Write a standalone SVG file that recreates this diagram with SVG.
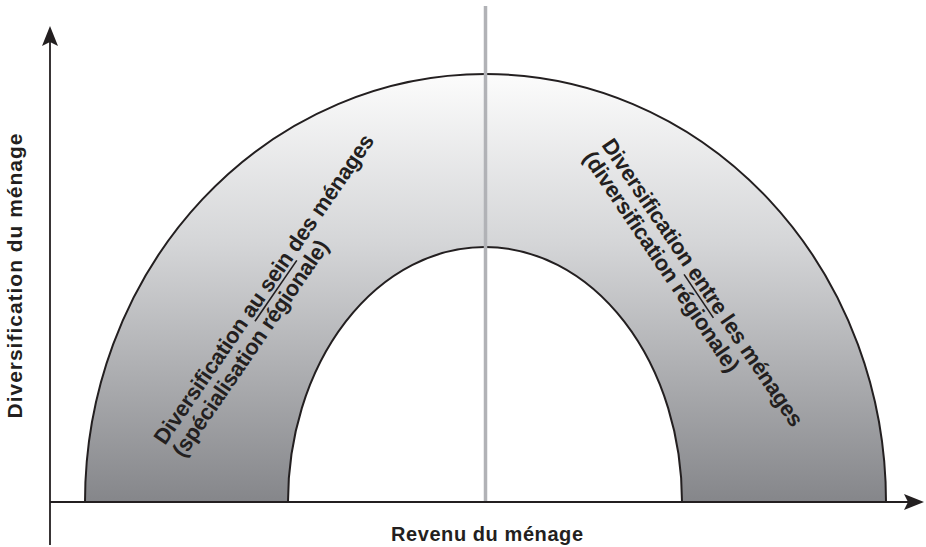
<svg xmlns="http://www.w3.org/2000/svg" width="926" height="547" viewBox="0 0 926 547">
<style>
.lbl{font-family:"Liberation Sans",Arial,sans-serif;font-weight:bold;fill:#231f20}
.arc{font-size:22px;letter-spacing:-0.25px}
.axis{stroke:#231f20;stroke-width:1.8;fill:none}
.ul{stroke:#231f20;stroke-width:1.6}
</style>
<defs>
<linearGradient id="arch" gradientUnits="userSpaceOnUse" x1="0" y1="74" x2="0" y2="502">
<stop offset="0" stop-color="#fcfcfc"/>
<stop offset="0.4" stop-color="#d4d5d7"/>
<stop offset="1" stop-color="#85868a"/>
</linearGradient>
</defs>
<rect width="926" height="547" fill="#ffffff"/>
<g id="arch-band">
<path d="M85 502 A400.5 428 0 0 1 886 502 L682 502 A197 255 0 0 0 288 502 Z" fill="url(#arch)" stroke="#231f20" stroke-width="2"/>
</g>
<g id="divider">
<line x1="485.5" y1="6" x2="485.5" y2="502" stroke="#b1b2b6" stroke-width="3.5"/>
</g>
<g id="connectors">
<line class="axis" x1="50" y1="545" x2="50" y2="40"/>
<polygon points="50,26 58,46 50,42 42,46" fill="#231f20"/>
<line class="axis" x1="50" y1="502" x2="910" y2="502"/>
<polygon points="924,502 904,510 908,502 904,494" fill="#231f20"/>
</g>
<g id="label-within">
<g transform="translate(165,446) rotate(-55.5)">
<text class="lbl arc"><tspan x="0" y="0">Diversification au sein des ménages</tspan><tspan x="0" y="22.5">(spécialisation régionale)</tspan></text>
<line class="ul" x1="153.7" y1="3.5" x2="227.6" y2="3.5"/>
</g>
</g>
<g id="label-between">
<g transform="translate(601,145) rotate(56)">
<text class="lbl arc"><tspan x="0" y="0">Diversification entre les ménages</tspan><tspan x="0" y="22.5">(diversification régionale)</tspan></text>
<line class="ul" x1="153.7" y1="3.5" x2="206.2" y2="3.5"/>
</g>
</g>
<g id="y-axis-label">
<text class="lbl" font-size="21" text-anchor="middle" textLength="285" lengthAdjust="spacing" transform="translate(22,276) rotate(-90)">Diversification du ménage</text>
</g>
<g id="x-axis-label">
<text class="lbl" font-size="20" text-anchor="middle" x="487" y="541" textLength="192" lengthAdjust="spacing">Revenu du ménage</text>
</g>
</svg>
